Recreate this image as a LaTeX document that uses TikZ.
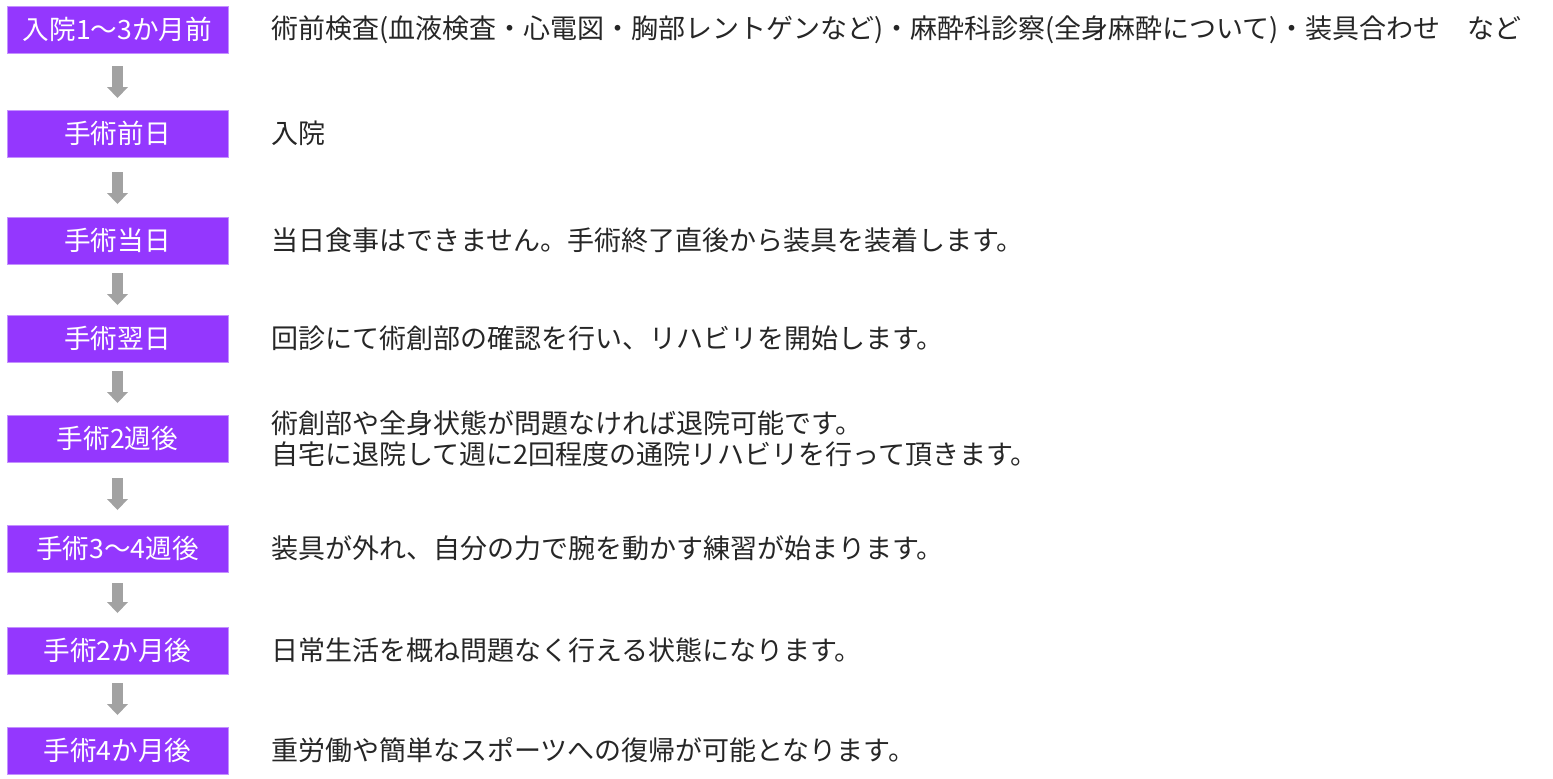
\documentclass[tikz,border=0pt]{standalone}
\usepackage{fontspec}
\newfontfamily\jpfont{Noto Sans CJK JP}
\usetikzlibrary{positioning,arrows.meta}
\definecolor{stagepurple}{HTML}{9437FE}
\definecolor{flowgray}{HTML}{A2A2A2}

\begin{document}
\begin{tikzpicture}[x=1pt,y=-1pt,node distance=54pt,
    stage/.style={rectangle, fill=stagepurple, draw=stagepurple!55!white, line width=0.8pt,
        minimum width=221pt, minimum height=47pt, inner sep=0pt, outer sep=0pt,
        text=white, font=\jpfont\fontsize{26.6}{30}\selectfont},
    note/.style={inner sep=0pt, align=left, text=black!85,
        font=\jpfont\fontsize{27}{31}\selectfont},
    flow/.style={draw=flowgray, line width=11pt,
        -{Triangle[width=21pt,length=11pt,line width=0pt]}}]

        \useasboundingbox (0,0) rectangle (1553,779);

        \node[stage] (d1) at (117.5,29.5) {入院1〜3か月前};
        \node[stage] (d2) [below=57pt of d1] {手術前日};
        \node[stage] (d3) [below=60pt of d2] {手術当日};
        \node[stage] (d4) [below=51pt of d3] {手術翌日};
        \node[stage] (d5) [below=53pt of d4] {手術2週後};
        \node[stage] (d6) [below=63pt of d5] {手術3〜4週後};
        \node[stage] (d7) [below=55pt of d6] {手術2か月後};
        \node[stage] (d8) [below=53pt of d7] {手術4か月後};

        \node[note] (n1) [right=43pt of d1] {術前検査(血液検査・心電図・胸部レントゲンなど)・麻酔科診察(全身麻酔について)・装具合わせ　など};
        \node[note] (n2) [right=43pt of d2] {入院};
        \node[note] (n3) [right=43pt of d3] {当日食事はできません。手術終了直後から装具を装着します。};
        \node[note] (n4) [right=43pt of d4] {回診にて術創部の確認を行い、リハビリを開始します。};
        \node[note] (n5) [right=43pt of d5] {術創部や全身状態が問題なければ退院可能です。\\自宅に退院して週に2回程度の通院リハビリを行って頂きます。};
        \node[note] (n6) [right=43pt of d6] {装具が外れ、自分の力で腕を動かす練習が始まります。};
        \node[note] (n7) [right=43pt of d7] {日常生活を概ね問題なく行える状態になります。};
        \node[note] (n8) [right=43pt of d8] {重労働や簡単なスポーツへの復帰が可能となります。};

        \draw[flow, shorten <=13pt, shorten >=12pt] (d1) -- (d2);
        \draw[flow, shorten <=15pt, shorten >=13pt] (d2) -- (d3);
        \draw[flow, shorten <=9pt, shorten >=10pt] (d3) -- (d4);
        \draw[flow, shorten <=9pt, shorten >=12pt] (d4) -- (d5);
        \draw[flow, shorten <=16pt, shorten >=15pt] (d5) -- (d6);
        \draw[flow, shorten <=11pt, shorten >=14pt] (d6) -- (d7);
        \draw[flow, shorten <=9pt, shorten >=12pt] (d7) -- (d8);

    \end{tikzpicture}
\end{document}
